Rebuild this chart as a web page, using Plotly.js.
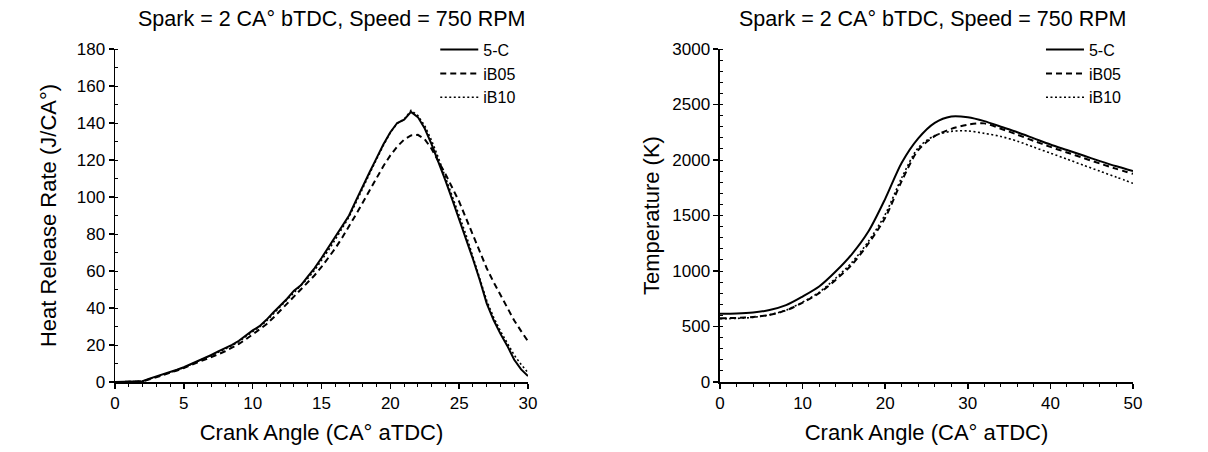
<!DOCTYPE html>
<html><head><meta charset="utf-8">
<script src="https://cdn.plot.ly/plotly-3.0.1.min.js"></script>
<style>html,body{margin:0;padding:0;background:#fff;} #chart{width:1208px;height:452px;}</style>
</head><body><div id="chart"></div>
<script>
// ---- Heat release rate (left) ----
const hrrAngle = [0,0.5,1,1.5,2,2.5,3,3.5,4,4.5,5,5.5,6,6.5,7,7.5,8,8.5,9,9.5,10,10.5,11,11.5,12,12.5,13,13.5,14,14.5,15,15.5,16,16.5,17,17.5,18,18.5,19,19.5,20,20.5,21,21.5,22,22.5,23,23.5,24,24.5,25,25.5,26,26.5,27,27.5,28,28.5,29,29.5,30];
const hrr5C = [0,0,0,0,0.4,1.8,2.9,4.3,5.3,6.6,8.0,9.6,11.3,12.8,14.6,16.6,18.3,20.1,22.3,25.2,27.9,30.2,33.6,37.6,41.4,45.0,49.4,52.3,57.0,61.6,67.0,72.8,78.6,84.6,90.0,98.0,106.0,113.5,121.0,128.5,135.0,140.0,141.8,146.0,143.2,137.0,128.5,119.0,109.0,98.5,88.0,77.5,66.5,55.0,42.5,33.5,26.0,19.5,12.0,6.8,3.2];
const hrrIB05 = [0,0,0,0,0.3,1.4,2.5,3.8,5.0,6.2,7.6,9.0,10.5,12.0,13.6,15.0,16.6,18.5,20.6,23.0,25.6,28.2,31.2,34.7,38.5,42.2,46.0,49.8,53.6,57.7,62.2,67.0,72.2,78.0,84.0,90.5,97.0,103.8,110.5,116.8,122.5,127.3,131.0,133.3,133.6,131.2,126.0,119.5,112.5,105.0,97.5,88.5,79.5,70.2,61.5,54.0,47.0,40.0,33.2,27.5,22.0];
const hrrIB10 = [0,0,0,0,0.4,1.6,2.7,4.1,5.2,6.4,7.8,9.4,11.0,12.6,14.3,16.0,17.8,19.7,21.8,24.6,27.3,29.8,33.0,36.8,40.6,44.3,48.5,51.8,56.0,60.4,65.6,71.2,77.0,83.2,89.2,97.0,105.0,112.8,120.5,128.0,134.8,139.8,142.0,146.8,144.0,138.5,130.5,121.0,111.0,100.5,90.0,79.5,68.0,56.5,44.0,35.0,27.5,21.0,14.5,9.5,5.0];

// ---- Temperature (right) ----
const tempAngle = [0,2,4,6,8,10,12,14,16,18,20,22,24,26,28,30,32,34,36,38,40,42,44,46,48,50];
const temp5C  = [615,617,626,648,692,770,860,995,1155,1360,1650,1975,2195,2335,2392,2385,2350,2300,2250,2195,2140,2090,2040,1990,1943,1900];
const tempIB05 = [575,577,585,605,645,715,800,920,1060,1250,1480,1810,2090,2215,2280,2318,2330,2282,2228,2172,2118,2068,2018,1968,1920,1875];
const tempIB10 = [570,573,582,605,648,720,808,935,1080,1270,1510,1840,2110,2220,2258,2262,2240,2212,2170,2115,2062,2008,1953,1899,1845,1790];

const seriesNames = ['5-C','iB05','iB10'];
const titleText = 'Spark = 2 CA° bTDC, Speed = 750 RPM';
const xTitle = 'Crank Angle (CA° aTDC)';
const yTitleLeft = 'Heat Release Rate (J/CA°)';
const yTitleRight = 'Temperature (K)';

const FONT = 'Arial, "Liberation Sans", sans-serif';
const dashes = ['solid', '6px,4px', '2px,2.5px'];
const widths = [2, 2, 1.6];

const traces = [];
[hrr5C, hrrIB05, hrrIB10].forEach((ys, i) => {
  traces.push({x: hrrAngle, y: ys, name: seriesNames[i], type: 'scatter', mode: 'lines',
    xaxis: 'x', yaxis: 'y', legend: 'legend',
    line: {color: '#000', width: widths[i], dash: dashes[i]}});
});
[temp5C, tempIB05, tempIB10].forEach((ys, i) => {
  traces.push({x: tempAngle, y: ys, name: seriesNames[i], type: 'scatter', mode: 'lines',
    xaxis: 'x2', yaxis: 'y2', legend: 'legend2',
    line: {color: '#000', width: widths[i], dash: dashes[i], shape: 'spline', smoothing: 0.8}});
});

function axisBase(extra) {
  return Object.assign({
    showline: true, linecolor: '#000', linewidth: 1.5, mirror: false,
    showgrid: false, zeroline: false,
    ticks: 'outside', ticklen: 5, tickwidth: 1.5, tickcolor: '#000',
    tickfont: {family: FONT, size: 17, color: '#000'},
    fixedrange: true
  }, extra);
}

const layout = {
  width: 1208, height: 452,
  paper_bgcolor: '#fff', plot_bgcolor: '#fff',
  margin: {l: 115, r: 75, t: 49.3, b: 70.3},
  showlegend: true,
  font: {family: FONT, color: '#000'},
  xaxis: axisBase({domain: [0, 0.4057], range: [0, 30], dtick: 5, tick0: 0, anchor: 'y',
    minor: {ticks: 'outside', ticklen: 3, tickwidth: 1, tickcolor: '#000', dtick: 1, showgrid: false},
    title: {text: xTitle, font: {family: FONT, size: 22, color: '#000'}, standoff: 12}}),
  yaxis: axisBase({domain: [0, 1], range: [0, 180], dtick: 20, tick0: 0, anchor: 'x',
    minor: {ticks: 'inside', ticklen: 3, tickwidth: 1, tickcolor: '#000', dtick: 10, showgrid: false},
    title: {text: yTitleLeft, font: {family: FONT, size: 22, color: '#000'}, standoff: 14}}),
  xaxis2: axisBase({domain: [0.5943, 1], range: [0, 50], dtick: 10, tick0: 0, anchor: 'y2',
    minor: {ticks: 'outside', ticklen: 3, tickwidth: 1, tickcolor: '#000', dtick: 2, showgrid: false},
    title: {text: xTitle, font: {family: FONT, size: 22, color: '#000'}, standoff: 12}}),
  yaxis2: axisBase({domain: [0, 1], range: [0, 3000], dtick: 500, tick0: 0, anchor: 'x2',
    minor: {ticks: 'inside', ticklen: 3, tickwidth: 1, tickcolor: '#000', dtick: 100, showgrid: false},
    title: {text: yTitleRight, font: {family: FONT, size: 22, color: '#000'}, standoff: 6}}),
  legend: {x: 0.3146, y: 1.049, xanchor: 'left', yanchor: 'top', bgcolor: 'rgba(0,0,0,0)',
    borderwidth: 0, font: {family: FONT, size: 16, color: '#000'}, itemwidth: 38, tracegroupgap: 0},
  legend2: {x: 0.9096, y: 1.049, xanchor: 'left', yanchor: 'top', bgcolor: 'rgba(0,0,0,0)',
    borderwidth: 0, font: {family: FONT, size: 16, color: '#000'}, itemwidth: 38, tracegroupgap: 0},
  annotations: [
    {text: titleText, xref: 'paper', yref: 'paper', x: 0.2129, y: 1.0912, xanchor: 'center', yanchor: 'middle',
      showarrow: false, font: {family: FONT, size: 21.5, color: '#000'}},
    {text: titleText, xref: 'paper', yref: 'paper', x: 0.8031, y: 1.0912, xanchor: 'center', yanchor: 'middle',
      showarrow: false, font: {family: FONT, size: 21.5, color: '#000'}}
  ]
};

Plotly.newPlot('chart', traces, layout, {displayModeBar: false, staticPlot: true});
</script>
</body></html>
